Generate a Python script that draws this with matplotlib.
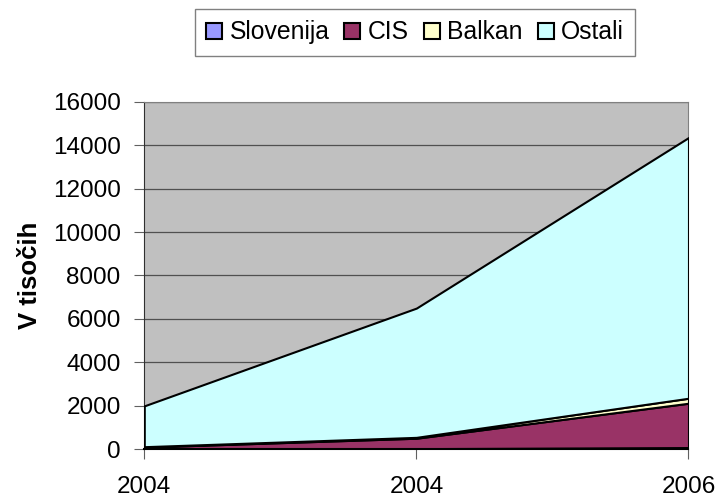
# Stacked area chart - V tisocih
import numpy as np
import matplotlib.pyplot as plt

plt.rcParams['font.family'] = ['Liberation Sans', 'DejaVu Sans']

# data
years = ["2004", "2004", "2006"]
slovenija = [20, 30, 80]
cis = [80, 480, 2040]
balkan = [20, 40, 230]
ostali = [1880, 5950, 12000]

series_names = ["Slovenija", "CIS", "Balkan", "Ostali"]
colors = ["#9999FF", "#993366", "#FFFFCC", "#CCFFFF"]

x = np.arange(len(years))

fig = plt.figure(figsize=(7.21, 4.99), dpi=100)
ax = fig.add_axes([0.2001, 0.0996, 0.7548, 0.6966])
ax.set_facecolor("#C0C0C0")

polys = ax.stackplot(x, slovenija, cis, balkan, ostali,
                     colors=colors, labels=series_names,
                     edgecolor="black", linewidth=1.5, zorder=3)

ax.set_xlim(0, 2)
ax.set_ylim(0, 16000)
ax.set_yticks(np.arange(0, 16001, 2000))
ax.set_xticks(x)
ax.set_xticklabels(years)

ax.yaxis.grid(True, color="#505050", linewidth=0.9, zorder=1)
ax.set_axisbelow(True)

for side in ["top", "right"]:
    ax.spines[side].set_color("#808080")
ax.spines["left"].set_color("#303030")
ax.spines["bottom"].set_color("black")
ax.spines["bottom"].set_linewidth(1.5)
ax.spines["bottom"].set_zorder(4)

ax.tick_params(axis="both", labelsize=17.5, direction="out", length=7,
               color="#606060")
ax.tick_params(axis="x", pad=12)
ax.tick_params(axis="y", pad=10)

ax.set_ylabel("V tisočih", fontsize=18.5, fontweight="bold", labelpad=8)

fig.legend(loc="center", bbox_to_anchor=(0.5756, 0.935), ncol=4,
           fontsize=17.8, frameon=True, fancybox=False, edgecolor="#606060",
           handlelength=0.65, handleheight=0.65, handletextpad=0.3,
           columnspacing=0.6, borderpad=0.45, borderaxespad=0)

fig.savefig("out.png", dpi=100)
